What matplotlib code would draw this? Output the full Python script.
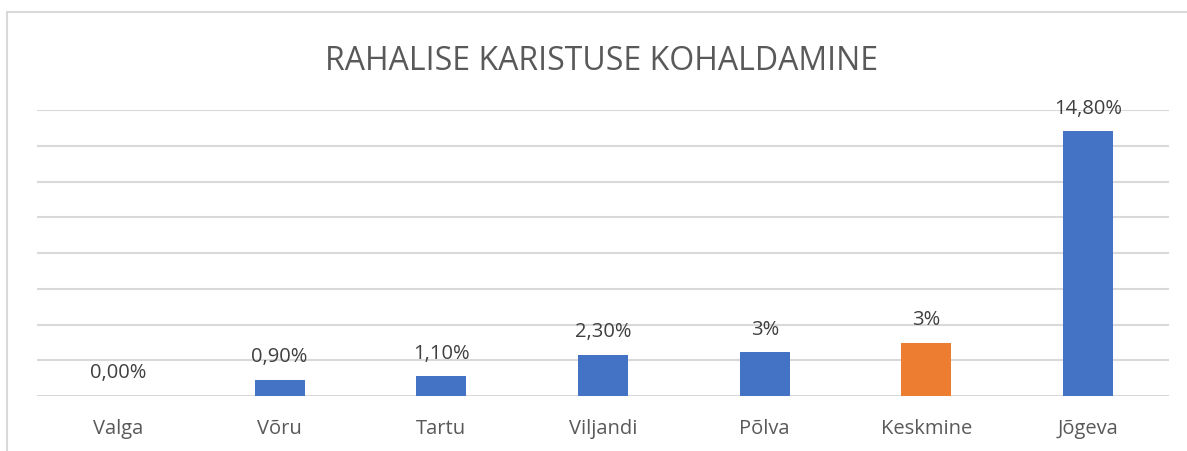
import matplotlib
matplotlib.use("Agg")
import matplotlib.pyplot as plt
from matplotlib.patches import Rectangle

categories = ["Valga", "Võru", "Tartu", "Viljandi", "Põlva", "Keskmine", "Jõgeva"]
values = [0.0, 0.9, 1.1, 2.3, 2.45, 2.97, 14.8]
labels = ["0,00%", "0,90%", "1,10%", "2,30%", "3%", "3%", "14,80%"]
colors = ["#4472C4", "#4472C4", "#4472C4", "#4472C4", "#4472C4", "#ED7D31", "#4472C4"]
title = "RAHALISE KARISTUSE KOHALDAMINE"

W, H = 1187, 452
fig = plt.figure(figsize=(W / 100, H / 100), dpi=100)
fig.patch.set_facecolor("white")
plt.rcParams['font.family'] = ['Open Sans', 'DejaVu Sans']

# chart border
fig.patches.append(Rectangle((7 / W, -0.05), 1.1, (H - 13) / H + 0.05, transform=fig.transFigure,
                             fill=False, edgecolor="#d9d9d9", linewidth=1.5))

ax = fig.add_axes([37 / W, (H - 397) / H, (1169 - 37) / W, (397 - 111) / H])
x = range(len(categories))
ax.bar(x, values, width=0.31, color=colors, zorder=3)
ax.set_xlim(-0.5, len(categories) - 0.5)
ax.set_ylim(0, 16)
ax.set_yticks(range(0, 17, 2))
ax.yaxis.grid(True, color="#d9d9d9", linewidth=1.5, zorder=0)
ax.set_yticklabels([])
ax.tick_params(axis="y", length=0)
ax.set_xticks(list(x))
ax.set_xticklabels(categories, fontsize=14.5, color="#595959")
ax.tick_params(axis="x", length=0, pad=16)
for s in ax.spines.values():
    s.set_visible(False)
ax.set_facecolor("none")

for xi, v, lab in zip(x, values, labels):
    ax.annotate(lab, (xi, v), xytext=(0, 17), textcoords="offset points",
                ha="center", va="center", fontsize=14.5, color="#404040")

fig.text(602 / W, (H - 61) / H, title, ha="center", va="center", fontsize=23, color="#595959")

fig.savefig("out.png", dpi=100, facecolor="white")
